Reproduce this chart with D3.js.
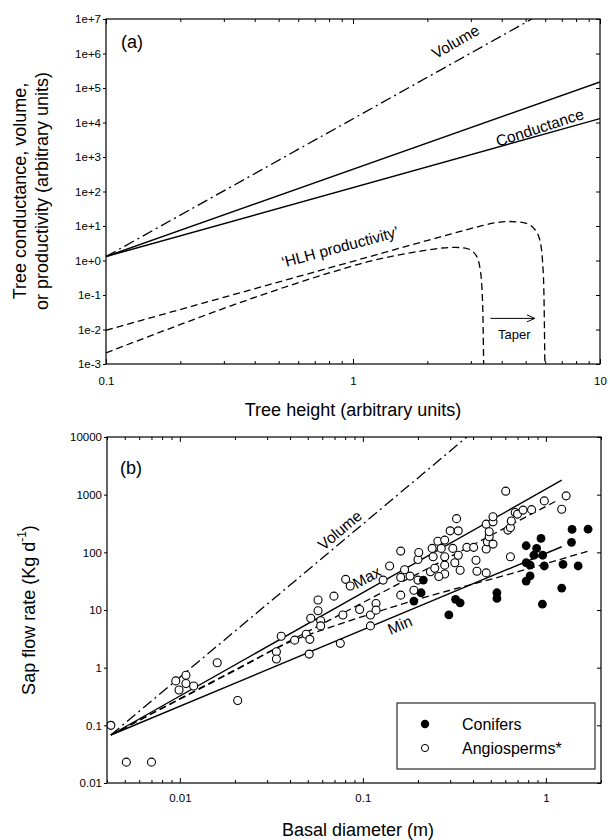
<!DOCTYPE html>
<html>
<head>
<meta charset="utf-8">
<script src="https://cdn.jsdelivr.net/npm/d3@7"></script>
<style>
  body { margin: 0; background: #fff; }
  svg { display: block; font-family: "Liberation Sans", Arial, sans-serif; }
</style>
</head>
<body>
<div id="chart"></div>
<script>
// ---------- panel (a): model curves ----------
const aXLabels = [0.1, 1, 10];
const aYTicks = [1e-3, 1e-2, 1e-1, 1e0, 1e1, 1e2, 1e3, 1e4, 1e5, 1e6, 1e7];
const aYLabels = ["1e-3", "1e-2", "1e-1", "1e+0", "1e+1", "1e+2", "1e+3", "1e+4", "1e+5", "1e+6", "1e+7"];

const volumeA = [[0.1, 1.3], [5.3, 1e7]];
const condUpperA = [[0.1, 1.3], [10, 1.5e5]];
const condLowerA = [[0.1, 1.3], [10, 1.3e4]];
const hlhUpperA = [[0.1, 0.0095], [1, 0.95], [2.5, 5.9], [3.2, 9.5], [3.8, 12.5], [4.3, 13.5],
                   [4.9, 12.5], [5.4, 8.5], [5.7, 4], [5.85, 1], [5.93, 0.1], [5.98, 0.001]];
const hlhLowerA = [[0.1, 0.0021], [0.9, 0.56], [1.1, 0.85], [1.5, 1.4], [1.9, 1.9], [2.3, 2.3],
                   [2.6, 2.4], [2.9, 2.2], [3.15, 1.4], [3.28, 0.5], [3.35, 0.05], [3.38, 0.001]];

// ---------- panel (b): sap flow vs basal diameter ----------
const bXLabels = [0.01, 0.1, 1];
const bYTicks = [0.01, 0.1, 1, 10, 100, 1000, 10000];

const volumeB = [[0.0042, 0.068], [0.37, 10000]];
const maxB = [[0.0042, 0.068], [1.22, 1780]];
const maxDashB = [[0.0042, 0.068], [1.16, 800]];
const minB = [[0.0042, 0.068], [1.22, 125]];
const prodB = [[0.0042, 0.068], [0.02, 0.89], [0.04, 2.8], [0.07, 5.3], [0.12, 9.3],
               [0.21, 16], [0.72, 47], [1.7, 105]];

// [basal diameter (m), sap flow (kg/d)]
const angiosperms = [
  [0.0042, 0.10], [0.0051, 0.023], [0.0070, 0.023], [0.0095, 0.59], [0.0108, 0.74], [0.0099, 0.41],
  [0.0108, 0.53], [0.0119, 0.48], [0.016, 1.22], [0.0207, 0.27], [0.0337, 1.89], [0.0337, 1.41],
  [0.0358, 3.5], [0.0424, 3.0], [0.049, 3.8], [0.0513, 3.1], [0.0509, 1.72], [0.0753, 2.64],
  [0.0519, 7.2], [0.0588, 6.5], [0.0588, 5.3], [0.0569, 14.9], [0.0569, 9.7], [0.0695, 17.4],
  [0.0805, 34], [0.0853, 26], [0.0778, 8.2], [0.096, 10.2], [0.110, 8.2], [0.118, 13],
  [0.118, 9.95], [0.110, 5.3], [0.129, 33], [0.140, 58], [0.161, 105], [0.169, 50],
  [0.181, 38.7], [0.161, 36.7], [0.161, 18.1], [0.19, 22], [0.2, 33], [0.2, 75], [0.202, 99.5],
  [0.234, 46], [0.247, 53], [0.242, 84], [0.239, 117], [0.257, 156], [0.268, 117], [0.28, 163],
  [0.28, 84], [0.28, 60], [0.28, 42], [0.26, 38], [0.30, 236], [0.31, 117], [0.318, 66],
  [0.325, 384], [0.332, 236], [0.332, 89], [0.34, 49], [0.37, 122], [0.403, 122], [0.415, 73],
  [0.42, 47], [0.472, 44], [0.472, 114], [0.472, 308], [0.479, 152], [0.49, 186], [0.49, 227],
  [0.514, 139], [0.514, 338], [0.514, 413], [0.603, 1150], [0.62, 243], [0.64, 270], [0.647, 350],
  [0.64, 84], [0.68, 490], [0.70, 460], [0.75, 540], [0.835, 550], [0.98, 780], [1.22, 560], [1.29, 953]
];
const conifers = [
  [0.19, 14.3], [0.208, 19.9], [0.214, 33], [0.295, 8.2], [0.321, 15.3], [0.34, 13.3],
  [0.54, 19.9], [0.54, 15.9], [0.78, 130], [0.78, 66], [0.78, 31.7], [0.82, 60], [0.82, 39],
  [0.86, 89], [0.89, 117], [0.94, 174], [0.96, 89], [0.957, 12.6], [0.98, 58], [1.22, 24],
  [1.24, 62], [1.38, 149], [1.39, 250], [1.50, 58], [1.70, 252]
];

const svg = d3.select("#chart").append("svg")
  .attr("width", 610)
  .attr("height", 840);

const isMajor = d => Math.abs(Math.log10(d) - Math.round(Math.log10(d))) < 1e-6;

// frame with inward minor/major ticks, outward left ticks
function drawAxes(g, x, y, w, h, xLabels, yTicks, yFormat, xPad) {
  const bottom = g.append("g")
    .attr("transform", `translate(0,${h})`)
    .call(d3.axisBottom(x)
      .tickValues(x.ticks())
      .tickSizeInner(-3).tickSizeOuter(0).tickPadding(xPad)
      .tickFormat(d => xLabels.some(v => Math.abs(v - d) < 1e-9) ? d3.format("~g")(d) : ""));
  bottom.selectAll(".tick line").filter(isMajor).attr("y2", -5);

  const top = g.append("g")
    .call(d3.axisTop(x).tickValues(x.ticks()).tickSizeInner(-3).tickSizeOuter(0).tickFormat(""));
  top.selectAll(".tick line").filter(isMajor).attr("y2", 5);

  g.append("g")
    .call(d3.axisLeft(y).tickValues(yTicks).tickSizeInner(3).tickSizeOuter(0).tickPadding(2)
      .tickFormat(yFormat));

  g.append("g")
    .attr("transform", `translate(${w},0)`)
    .call(d3.axisRight(y).tickValues(yTicks).tickSizeInner(-4).tickSizeOuter(0).tickFormat(""));

  g.selectAll(".domain").remove();
  g.selectAll(".tick text").attr("font-size", 11.5).attr("font-family", "Liberation Sans, Arial, sans-serif").attr("fill", "#000");
  g.selectAll(".tick line").attr("stroke", "#000").attr("stroke-width", 1);

  g.append("rect")
    .attr("width", w).attr("height", h)
    .attr("fill", "none").attr("stroke", "#000").attr("stroke-width", 1.2);
}

function rotLabel(g, px, py, angle, text, size) {
  return g.append("text")
    .attr("transform", `translate(${px},${py}) rotate(${angle})`)
    .attr("text-anchor", "middle")
    .attr("dominant-baseline", "central")
    .attr("font-size", size)
    .text(text);
}

// ================= panel (a) =================
const aW = 494, aH = 345;
const gA = svg.append("g").attr("transform", "translate(106,19)");
const xA = d3.scaleLog().domain([0.1, 10]).range([0, aW]);
const yA = d3.scaleLog().domain([1e-3, 1e7]).range([aH, 0]);
const lineA = d3.line().x(d => xA(d[0])).y(d => yA(d[1]));

gA.append("clipPath").attr("id", "clipA")
  .append("rect").attr("width", aW).attr("height", aH);
const plotA = gA.append("g").attr("clip-path", "url(#clipA)");

plotA.append("path").attr("d", lineA(volumeA))
  .attr("fill", "none").attr("stroke", "#000").attr("stroke-width", 1.3)
  .attr("stroke-dasharray", "11,4,2,4");
[condUpperA, condLowerA].forEach(s => {
  plotA.append("path").attr("d", lineA(s))
    .attr("fill", "none").attr("stroke", "#000").attr("stroke-width", 1.4);
});
[hlhUpperA, hlhLowerA].forEach(s => {
  plotA.append("path").attr("d", lineA.curve(d3.curveMonotoneX)(s))
    .attr("fill", "none").attr("stroke", "#000").attr("stroke-width", 1.3)
    .attr("stroke-dasharray", "7,4");
});
lineA.curve(d3.curveLinear);

drawAxes(gA, xA, yA, aW, aH, aXLabels, aYTicks, (d, i) => aYLabels[i], 13);

gA.append("text").attr("x", 15).attr("y", 29).attr("font-size", 18).text("(a)");
rotLabel(gA, xA(2.6), yA(2.2e6), -30, "Volume", 15.5);
rotLabel(gA, xA(5.7), yA(7200), -18, "Conductance", 15.5);
rotLabel(gA, xA(0.886), yA(2.5), -15, "\u2018HLH productivity\u2019", 15.5);

// taper arrow
const arrY = yA(0.021);
gA.append("line")
  .attr("x1", xA(3.6)).attr("x2", xA(5.45)).attr("y1", arrY).attr("y2", arrY)
  .attr("stroke", "#000").attr("stroke-width", 1);
gA.append("path")
  .attr("d", `M${xA(5.45) - 8},${arrY - 3.5} L${xA(5.45)},${arrY} L${xA(5.45) - 8},${arrY + 3.5}`)
  .attr("fill", "none").attr("stroke", "#000").attr("stroke-width", 1);
gA.append("text")
  .attr("x", xA(4.5)).attr("y", yA(0.0072))
  .attr("text-anchor", "middle").attr("dominant-baseline", "central")
  .attr("font-size", 13).text("Taper");

gA.append("text")
  .attr("x", aW / 2).attr("y", aH + 52)
  .attr("text-anchor", "middle").attr("font-size", 18)
  .text("Tree height (arbitrary units)");

svg.append("text")
  .attr("transform", "translate(20,191) rotate(-90)")
  .attr("text-anchor", "middle").attr("dominant-baseline", "central")
  .attr("font-size", 18).text("Tree conductance, volume,");
svg.append("text")
  .attr("transform", "translate(42,191) rotate(-90)")
  .attr("text-anchor", "middle").attr("dominant-baseline", "central")
  .attr("font-size", 18).text("or productivity (arbitrary units)");

// ================= panel (b) =================
const bW = 494, bH = 346;
const gB = svg.append("g").attr("transform", "translate(107,437)");
const xB = d3.scaleLog().domain([0.004, 2]).range([0, bW]);
const yB = d3.scaleLog().domain([0.01, 10000]).range([bH, 0]);
const lineB = d3.line().x(d => xB(d[0])).y(d => yB(d[1]));

gB.append("clipPath").attr("id", "clipB")
  .append("rect").attr("width", bW).attr("height", bH);
const plotB = gB.append("g").attr("clip-path", "url(#clipB)");

plotB.append("path").attr("d", lineB(volumeB))
  .attr("fill", "none").attr("stroke", "#000").attr("stroke-width", 1.3)
  .attr("stroke-dasharray", "11,4,2,4");
[maxB, minB].forEach(s => {
  plotB.append("path").attr("d", lineB(s))
    .attr("fill", "none").attr("stroke", "#000").attr("stroke-width", 1.4);
});
plotB.append("path").attr("d", lineB(maxDashB))
  .attr("fill", "none").attr("stroke", "#000").attr("stroke-width", 1.3)
  .attr("stroke-dasharray", "7,4");
plotB.append("path").attr("d", lineB.curve(d3.curveMonotoneX)(prodB))
  .attr("fill", "none").attr("stroke", "#000").attr("stroke-width", 1.3)
  .attr("stroke-dasharray", "7,4");

plotB.selectAll(".angio").data(angiosperms).enter().append("circle")
  .attr("class", "angio")
  .attr("cx", d => xB(d[0])).attr("cy", d => yB(d[1])).attr("r", 4)
  .attr("fill", "#fff").attr("stroke", "#000").attr("stroke-width", 1.1);
plotB.selectAll(".conif").data(conifers).enter().append("circle")
  .attr("class", "conif")
  .attr("cx", d => xB(d[0])).attr("cy", d => yB(d[1])).attr("r", 4.4)
  .attr("fill", "#000");

drawAxes(gB, xB, yB, bW, bH, bXLabels, bYTicks, d3.format("~g"), 11);

gB.append("text").attr("x", 13).attr("y", 37).attr("font-size", 18).text("(b)");
rotLabel(gB, xB(0.0747), yB(243), -40, "Volume", 15.5);
rotLabel(gB, xB(0.105), yB(37), -29, "Max", 15.5);
rotLabel(gB, xB(0.159), yB(5.5), -23, "Min", 15.5);

// legend
const leg = gB.append("g").attr("transform", "translate(290,266)");
leg.append("rect").attr("width", 198).attr("height", 66)
  .attr("fill", "#fff").attr("stroke", "#000").attr("stroke-width", 1);
leg.append("circle").attr("cx", 28).attr("cy", 21).attr("r", 4.2).attr("fill", "#000");
leg.append("circle").attr("cx", 28).attr("cy", 45).attr("r", 3.6)
  .attr("fill", "#fff").attr("stroke", "#000").attr("stroke-width", 1);
leg.append("text").attr("x", 65).attr("y", 21).attr("dominant-baseline", "central")
  .attr("font-size", 16).text("Conifers");
leg.append("text").attr("x", 65).attr("y", 45).attr("dominant-baseline", "central")
  .attr("font-size", 16).text("Angiosperms*");

gB.append("text")
  .attr("x", bW / 2 + 4).attr("y", bH + 53)
  .attr("text-anchor", "middle").attr("font-size", 18)
  .text("Basal diameter (m)");

const yTitleB = svg.append("text")
  .attr("transform", "translate(29,610) rotate(-90)")
  .attr("text-anchor", "middle").attr("dominant-baseline", "central")
  .attr("font-size", 18);
yTitleB.append("tspan").text("Sap flow rate (Kg d");
yTitleB.append("tspan").attr("baseline-shift", "super").attr("font-size", 12).text("-1");
yTitleB.append("tspan").text(")");
</script>
</body>
</html>
